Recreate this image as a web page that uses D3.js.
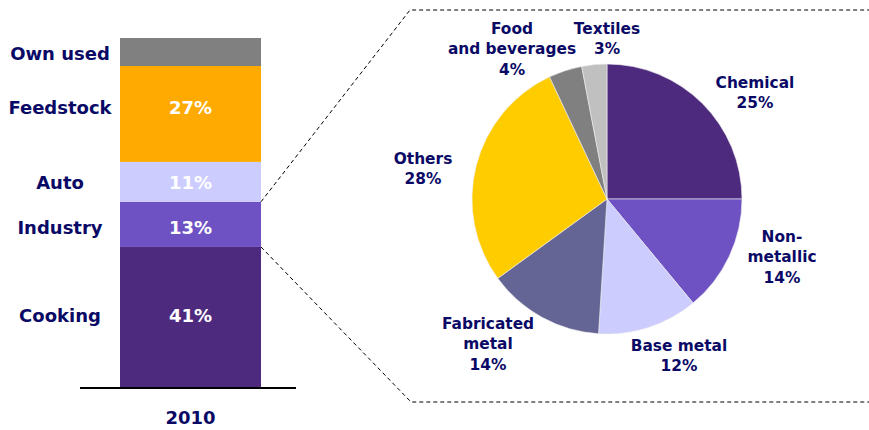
<!DOCTYPE html>
<html lang="en">
<head>
    <meta charset="UTF-8">
    <title>LPG demand split 2010</title>
    <style>
        body {
            margin: 0;
            background-color: #FFFFFF;
        }
        svg text {
            font-family: "DejaVu Sans", Verdana, sans-serif;
            font-weight: bold;
        }
    </style>
</head>
<body>
    <svg id="chart" width="869" height="430"></svg>

    <script src="https://d3js.org/d3.v7.min.js"></script>
    <script>
        // Stacked bar data (bottom to top), heights
        const barCategories = ["Cooking", "Industry", "Auto", "Feedstock", "Own used"];
        const barValues = [40.3, 12.9, 11.4, 27.4, 8.0];
        const barLabels = ["41%", "13%", "11%", "27%", ""];
        const barColors = ["#4E2A7E", "#6E52C4", "#CCCCFF", "#FFAA00", "#808080"];
        const barYear = "2010";

        // Industry breakdown pie (clockwise from 12 o'clock)
        const pieCategories = [
            ["Chemical"], ["Non-", "metallic"], ["Base metal"], ["Fabricated", "metal"],
            ["Others"], ["Food", "and beverages"], ["Textiles"]
        ];
        const pieValues = [25, 14, 12, 14, 28, 4, 3];
        const pieColors = ["#4E2A7E", "#6E52C4", "#CCCCFF", "#656595", "#FFCC00", "#808080", "#C0C0C0"];
        // label anchor (centre of first line) for each slice
        const pieLabelPos = [[755, 82], [782, 236], [679, 345], [488, 323], [423, 158], [512, 28], [607, 28]];

        const textColor = "#0A0A66";
        const svg = d3.select("#chart");

        // ---- stacked bar ----
        const y = d3.scaleLinear().domain([0, 100]).range([388, 38]);
        const x = d3.scaleBand().domain([barYear]).range([120, 261]).padding(0);

        let cum = 0;
        const segs = barValues.map((v, i) => {
            const s = { name: barCategories[i], v0: cum, v1: cum + v, label: barLabels[i], color: barColors[i] };
            cum += v;
            return s;
        });
        // small vertical nudge of the labels, as in the original slide
        const labelNudge = [-2, 3, 1, -6, 2];

        const bar = svg.append("g");
        bar.selectAll("rect")
            .data(segs)
            .join("rect")
            .attr("x", x(barYear))
            .attr("width", x.bandwidth())
            .attr("y", d => y(d.v1))
            .attr("height", d => y(d.v0) - y(d.v1))
            .attr("fill", d => d.color);

        bar.selectAll("text.val")
            .data(segs)
            .join("text")
            .attr("class", "val")
            .attr("x", x(barYear) + x.bandwidth() / 2)
            .attr("y", (d, i) => (y(d.v0) + y(d.v1)) / 2 + labelNudge[i])
            .attr("dy", "0.36em")
            .attr("text-anchor", "middle")
            .attr("font-size", "18px")
            .attr("fill", "#FFFFFF")
            .text(d => d.label);

        bar.selectAll("text.cat")
            .data(segs)
            .join("text")
            .attr("class", "cat")
            .attr("x", 60)
            .attr("y", (d, i) => (y(d.v0) + y(d.v1)) / 2 + labelNudge[i])
            .attr("dy", "0.36em")
            .attr("text-anchor", "middle")
            .attr("font-size", "18px")
            .attr("fill", textColor)
            .text(d => d.name);

        // baseline
        svg.append("line")
            .attr("x1", 80).attr("x2", 296)
            .attr("y1", y(0)).attr("y2", y(0))
            .attr("stroke", "#000000")
            .attr("stroke-width", 2);

        svg.append("text")
            .attr("x", x(barYear) + x.bandwidth() / 2)
            .attr("y", 418)
            .attr("dy", "0.36em")
            .attr("text-anchor", "middle")
            .attr("font-size", "18px")
            .attr("fill", textColor)
            .text(barYear);

        // ---- dashed callout ----
        const barRight = x(barYear) + x.bandwidth();
        const industry = segs[1];
        const callout = [
            [[barRight, y(industry.v1)], [410, 10], [869, 10]],
            [[barRight, y(industry.v0)], [411, 402], [869, 402]]
        ];
        svg.selectAll("path.callout")
            .data(callout)
            .join("path")
            .attr("class", "callout")
            .attr("d", d3.line())
            .attr("fill", "none")
            .attr("stroke", "#000000")
            .attr("stroke-width", 1)
            .attr("stroke-dasharray", "4,3");

        // ---- pie ----
        const cx = 607, cy = 199, r = 135;
        const pie = d3.pie().sort(null).value(d => d)(pieValues);
        const arc = d3.arc().innerRadius(0).outerRadius(r);

        const pieG = svg.append("g").attr("transform", `translate(${cx},${cy})`);
        pieG.selectAll("path")
            .data(pie)
            .join("path")
            .attr("d", arc)
            .attr("fill", (d, i) => pieColors[i])
            .attr("stroke", "#EEEEEE")
            .attr("stroke-width", 0.6);

        const labels = svg.append("g");
        pieCategories.forEach((lines, i) => {
            const [lx, ly] = pieLabelPos[i];
            const t = labels.append("text")
                .attr("text-anchor", "middle")
                .attr("font-size", "15.4px")
                .attr("fill", textColor);
            lines.concat([pieValues[i] + "%"]).forEach((line, j) => {
                t.append("tspan")
                    .attr("x", lx)
                    .attr("y", ly + j * 20.8)
                    .attr("dy", "0.36em")
                    .text(line);
            });
        });
    </script>
</body>
</html>
